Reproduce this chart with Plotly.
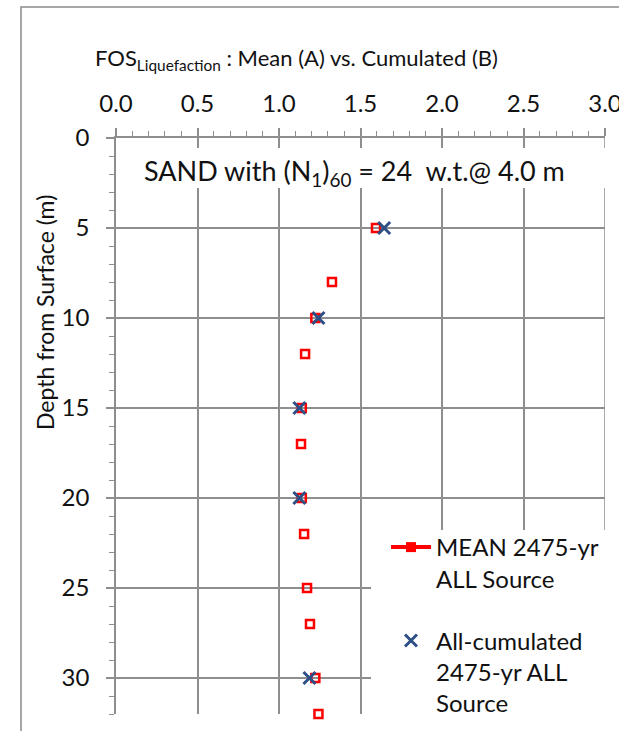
import plotly.graph_objects as go

# ---- data ----
depth_mean = [5, 8, 10, 12, 15, 17, 20, 22, 25, 27, 30, 32]
fos_mean = [1.595, 1.325, 1.223, 1.16, 1.14, 1.135, 1.14, 1.154, 1.172, 1.19, 1.223, 1.242]
depth_cum = [5, 10, 15, 20, 30]
fos_cum = [1.645, 1.242, 1.125, 1.125, 1.187]

x_ticks = [0.0, 0.5, 1.0, 1.5, 2.0, 2.5, 3.0]
y_ticks = [0, 5, 10, 15, 20, 25, 30]

name_mean = "MEAN 2475-yr<br>ALL Source"
name_cum = "All-cumulated<br>2475-yr ALL<br>Source"
title_text = "FOS<sub>Liquefaction</sub> : Mean (A) vs. Cumulated (B)"
note_text = "SAND with (N<sub>1</sub>)<sub>60</sub> = 24&nbsp; w.t.@ 4.0 m"
ytitle_text = "Depth from Surface (m)"

FONT = "Lato"
GRID = "#8E8E8E"
RED = "#FF0000"
BLUE = "#2D4F86"

# plot-area geometry (pixels) used for paper coordinates
L, R, T, B = 116, 605, 138, 714
W, H = 619, 731


def px(xp):
    return (xp - L) / (R - L)


def py(yp):
    return (B - yp) / (B - T)


fig = go.Figure()

# data traces
fig.add_trace(go.Scatter(
    x=fos_mean, y=depth_mean, mode="markers", showlegend=False,
    marker=dict(symbol="square-open", size=8, color=RED, line=dict(width=2.5, color=RED)),
    cliponaxis=False, legendgroup="a"))
# legend proxy for mean (line + marker like the original legend)
fig.add_trace(go.Scatter(
    x=[None], y=[None], mode="lines+markers", name=name_mean,
    line=dict(color=RED, width=4),
    marker=dict(symbol="square", size=10, color=RED),
    legendgroup="a"))
fig.add_trace(go.Scatter(
    x=fos_cum, y=depth_cum, mode="markers", name=name_cum,
    marker=dict(symbol="x-thin", size=12, color=BLUE, line=dict(width=3, color=BLUE)),
    cliponaxis=False, legendgroup="b"))

fig.update_layout(
    width=W, height=H,
    margin=dict(l=L, r=W - R, t=T, b=H - B, autoexpand=False),
    paper_bgcolor="white", plot_bgcolor="white",
    font=dict(family=FONT, size=23, color="#111111"),
    showlegend=True,
    legend=dict(
        x=px(386), y=py(525), xanchor="left", yanchor="top",
        bgcolor="rgba(255,255,255,0)", borderwidth=0, valign="top",
        font=dict(family=FONT, size=24, color="#111111"),
        tracegroupgap=28, itemwidth=40,
    ),
)

fig.update_xaxes(
    side="top", range=[0, 3], tickmode="array", tickvals=x_ticks,
    ticktext=[f"{v:.1f}" for v in x_ticks],
    showgrid=True, gridcolor=GRID, gridwidth=1.5,
    showline=True, linecolor=GRID, linewidth=1.5,
    ticks="outside", ticklen=8, tickwidth=1.5, tickcolor=GRID,
    ticklabelstandoff=7, ticklabeloverflow="allow",
    minor=dict(dtick=0.1, ticks="outside", ticklen=5, tickwidth=1.2, tickcolor=GRID, showgrid=False),
    zeroline=False, tickfont=dict(size=24),
)
fig.update_yaxes(
    range=[32, 0], tickmode="array", tickvals=y_ticks,
    showgrid=True, gridcolor=GRID, gridwidth=1.5,
    showline=True, linecolor=GRID, linewidth=1.5,
    ticks="outside", ticklen=8, tickwidth=1.5, tickcolor=GRID,
    ticklabelstandoff=12, ticklabeloverflow="allow",
    minor=dict(dtick=1, ticks="outside", ticklen=5, tickwidth=1.2, tickcolor=GRID, showgrid=False),
    zeroline=False, tickfont=dict(size=24),
)

# grid line at the right end of the x range
fig.add_shape(type="line", xref="x", yref="paper", x0=3, x1=3, y0=0, y1=1,
              line=dict(width=1.5, color=GRID), layer="below")
# white boxes (text box and legend area) hiding grid lines
fig.add_shape(type="rect", xref="paper", yref="paper",
              x0=px(117.5), x1=px(625), y0=py(188), y1=py(148),
              fillcolor="white", line=dict(width=0), layer="above")
fig.add_shape(type="rect", xref="paper", yref="paper",
              x0=px(371), x1=px(640), y0=py(760), y1=py(530),
              fillcolor="white", line=dict(width=0), layer="above")
# chart border
fig.add_shape(type="rect", xref="paper", yref="paper",
              x0=px(21), x1=px(660), y0=py(780), y1=py(7),
              fillcolor="rgba(0,0,0,0)", line=dict(width=1.5, color="#8A8A8A"), layer="above")

fig.add_annotation(text=title_text, xref="paper", yref="paper",
                   x=px(296), y=py(59), xanchor="center", yanchor="middle",
                   showarrow=False, font=dict(size=22))
fig.add_annotation(text=note_text, xref="paper", yref="paper",
                   x=px(354), y=py(173), xanchor="center", yanchor="middle",
                   showarrow=False, font=dict(size=27))
fig.add_annotation(text=ytitle_text, xref="paper", yref="paper",
                   x=px(45), y=py(313), xanchor="center", yanchor="middle",
                   textangle=-90, showarrow=False, font=dict(size=23))

fig.write_html("out.html")
